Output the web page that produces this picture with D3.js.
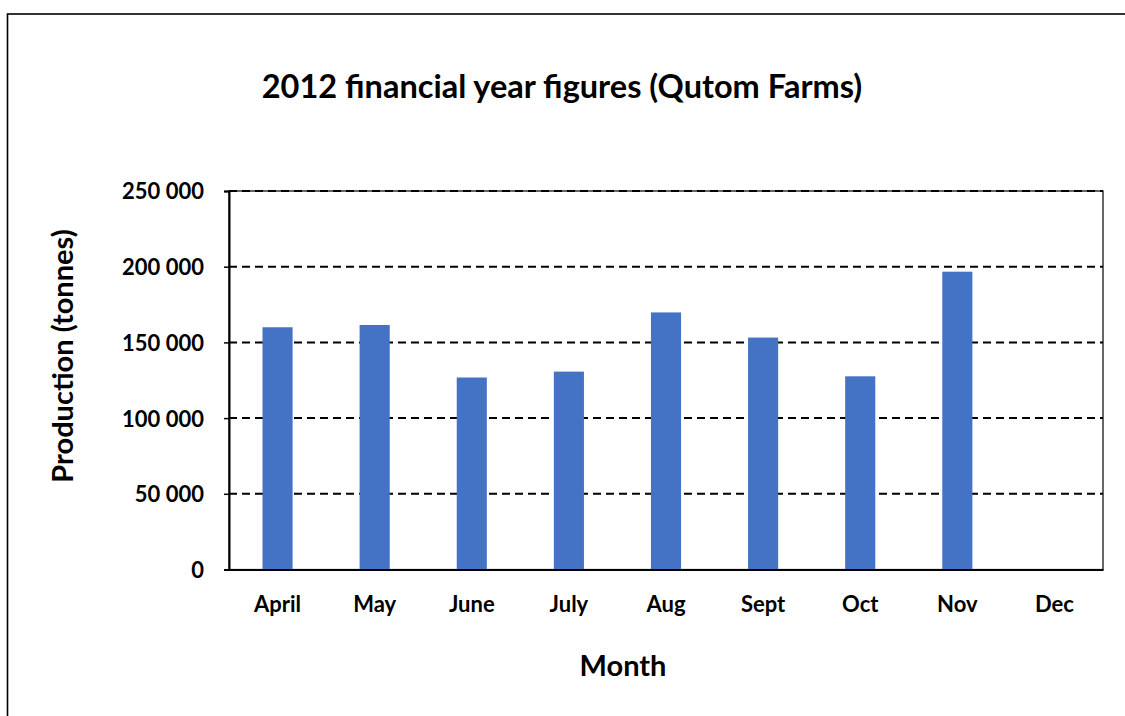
<!DOCTYPE html>
<html lang="en">
<head>
<meta charset="UTF-8">
<title>2012 financial year figures</title>
<style>
  body, html { margin: 0; padding: 0; background: #fff; }
  svg { display: block; }
  svg text { font-family: Lato, "Open Sans", sans-serif; font-weight: bold; }
  .grid line { stroke: #000; stroke-width: 2px; stroke-dasharray: 8 5; }
  .bar { fill: #4472c4; }
</style>
</head>
<body>
<div id="chart"></div>
<script src="https://d3js.org/d3.v7.min.js"></script>
<script>
  // chart data
  const months = ['April', 'May', 'June', 'July', 'Aug', 'Sept', 'Oct', 'Nov', 'Dec'];
  const production = [160000, 161500, 126800, 130700, 169800, 153200, 127600, 196700, 0];
  const yTicks = [0, 50000, 100000, 150000, 200000, 250000];

  const width = 1125, height = 716;
  const plot = { left: 229, right: 1103, top: 191, bottom: 569.5 };

  const svg = d3.select('#chart').append('svg')
      .attr('width', width)
      .attr('height', height);

  // outer chart frame (runs off the right and bottom edges)
  svg.append('rect')
      .attr('x', 7.5).attr('y', 14)
      .attr('width', width).attr('height', height)
      .attr('fill', 'none').attr('stroke', '#000').attr('stroke-width', 1.6);

  const x = d3.scaleBand()
      .domain(months)
      .range([plot.left, plot.right])
      .paddingInner(0.69)
      .paddingOuter(0.345);

  const y = d3.scaleLinear()
      .domain([0, 250000])
      .range([plot.bottom, plot.top]);

  const fmt = d3.formatLocale({ decimal: '.', thousands: ' ', grouping: [3], currency: ['', ''] }).format(',d');

  // plot area border (thin)
  svg.append('rect')
      .attr('x', plot.left).attr('y', plot.top)
      .attr('width', plot.right - plot.left).attr('height', plot.bottom - plot.top)
      .attr('fill', 'none').attr('stroke', '#000').attr('stroke-width', 1.2);

  // dashed gridlines
  svg.append('g').attr('class', 'grid')
    .selectAll('line')
    .data(yTicks.slice(1))
    .enter().append('line')
      .attr('x1', plot.left).attr('x2', plot.right)
      .attr('y1', d => y(d)).attr('y2', d => y(d));

  // bars
  svg.append('g').selectAll('rect')
    .data(months)
    .enter().append('rect')
      .attr('class', 'bar')
      .attr('x', d => x(d))
      .attr('width', x.bandwidth())
      .attr('y', (d, i) => y(production[i]))
      .attr('height', (d, i) => y(0) - y(production[i]));

  // y axis
  const yAxis = svg.append('g')
      .attr('transform', `translate(${plot.left},0)`)
      .call(d3.axisLeft(y).tickValues(yTicks).tickFormat(fmt).tickSize(5).tickPadding(20))
      .attr('font-family', null);
  yAxis.select('.domain').attr('stroke', '#000').attr('stroke-width', 2);
  yAxis.selectAll('.tick line').attr('stroke', '#000').attr('stroke-width', 1.5);
  yAxis.selectAll('text')
      .attr('fill', '#000')
      .attr('dy', '0.36em')
      .style('font-size', '22px');

  // x axis
  const xAxis = svg.append('g')
      .attr('transform', `translate(0,${plot.bottom})`)
      .call(d3.axisBottom(x).tickSize(0).tickPadding(27))
      .attr('font-family', null);
  xAxis.select('.domain').attr('stroke', '#000').attr('stroke-width', 2);
  xAxis.selectAll('text')
      .attr('fill', '#000')
      .style('font-size', '22px');

  // titles
  svg.append('text')
      .attr('x', 562).attr('y', 98)
      .attr('text-anchor', 'middle')
      .style('font-size', '32.5px')
      .text('2012 financial year figures (Qutom Farms)');

  svg.append('text')
      .attr('x', 623).attr('y', 676)
      .attr('text-anchor', 'middle')
      .style('font-size', '29px')
      .text('Month');

  svg.append('text')
      .attr('transform', 'translate(73,356) rotate(-90)')
      .attr('text-anchor', 'middle')
      .style('font-size', '29px')
      .text('Production (tonnes)');
</script>
</body>
</html>
